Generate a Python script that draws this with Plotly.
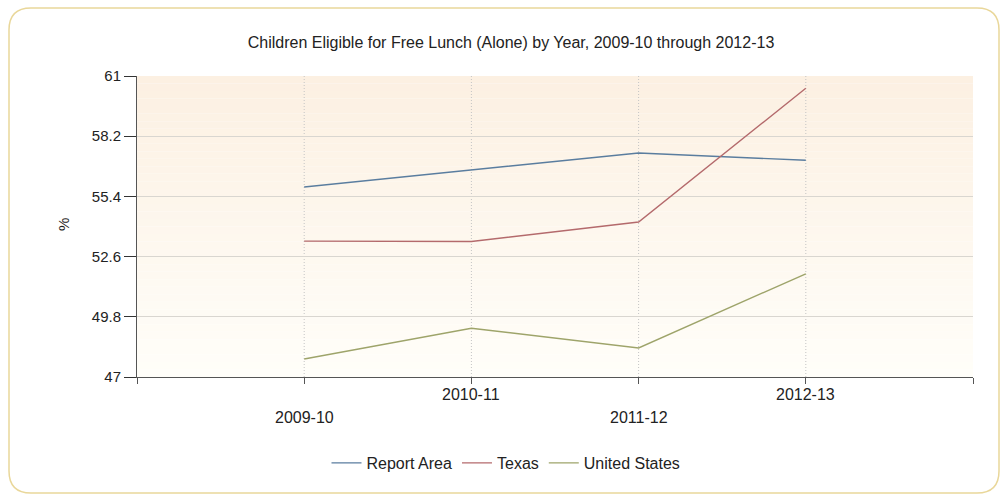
import plotly.graph_objects as go

years = ["2009-10", "2010-11", "2011-12", "2012-13"]
report_area = [55.84, 56.62, 57.42, 57.08]
texas = [53.32, 53.30, 54.21, 60.43]
united_states = [47.84, 49.27, 48.35, 51.80]
y_ticks = [47, 49.8, 52.6, 55.4, 58.2, 61]

W, H = 1008, 501
ML, MR, MT, MB = 137, 35, 76, 124
PW, PH = W - ML - MR, H - MT - MB
FONT = "Liberation Sans, Arial, sans-serif"
FS = 16

def px(x):
    return (x - ML) / PW

def py(y):
    return 1 - (y - MT) / PH

x_idx = list(range(len(years)))

fig = go.Figure()
series = [("Report Area", report_area, "#5a7d9f"),
          ("Texas", texas, "#b46a6c"),
          ("United States", united_states, "#9ea46a")]
for name, vals, col in series:
    fig.add_trace(go.Scatter(x=x_idx, y=vals, mode="lines", name=name,
                             line=dict(color=col, width=1.4)))

shapes = []
n = 40
top = (252, 240, 226)
bot = (255, 254, 249)
for i in range(n):
    t = i / (n - 1)
    c = tuple(round(top[k] + (bot[k] - top[k]) * t) for k in range(3))
    shapes.append(dict(type="rect", xref="x domain", yref="y domain",
                       x0=0, x1=1, y0=1 - (i + 1) / n, y1=1 - i / n,
                       fillcolor="rgb(%d,%d,%d)" % c, line=dict(width=0),
                       layer="below"))
for xi in x_idx:
    shapes.append(dict(type="line", xref="x", yref="y domain", x0=xi, x1=xi,
                       y0=0, y1=1, line=dict(color="#c4c4c4", width=1, dash="1px,2px"),
                       layer="below"))

x0, x1, y0, y1, r = 9, 999, 8, 493, 22
path = (f"M {px(x0+r)},{py(y0)} L {px(x1-r)},{py(y0)} "
        f"Q {px(x1)},{py(y0)} {px(x1)},{py(y0+r)} L {px(x1)},{py(y1-r)} "
        f"Q {px(x1)},{py(y1)} {px(x1-r)},{py(y1)} L {px(x0+r)},{py(y1)} "
        f"Q {px(x0)},{py(y1)} {px(x0)},{py(y1-r)} L {px(x0)},{py(y0+r)} "
        f"Q {px(x0)},{py(y0)} {px(x0+r)},{py(y0)} Z")
shapes.append(dict(type="path", xref="paper", yref="paper", path=path,
                   line=dict(color="#e9d79a", width=1.5), fillcolor="rgba(0,0,0,0)"))

annotations = [dict(text="%", textangle=-90, xref="paper", yref="paper",
                    x=px(63), y=py(225), xanchor="center", yanchor="middle",
                    showarrow=False, font=dict(size=15, color="#222"))]
for i, yr in enumerate(years):
    annotations.append(dict(text=yr, xref="x", yref="paper", x=i,
                            y=py(417 if i % 2 == 0 else 394),
                            xanchor="center", yanchor="middle", showarrow=False,
                            font=dict(size=FS, color="#222")))

fig.update_layout(
    width=W, height=H,
    margin=dict(l=ML, r=MR, t=MT, b=MB),
    paper_bgcolor="white",
    plot_bgcolor="rgba(0,0,0,0)",
    font=dict(family=FONT, size=FS, color="#222"),
    title=dict(text="Children Eligible for Free Lunch (Alone) by Year, 2009-10 through 2012-13",
               x=px(511), xref="paper", y=1 - 42 / H, yref="container",
               xanchor="center", yanchor="middle",
               font=dict(size=FS, color="#222")),
    shapes=shapes,
    annotations=annotations,
    showlegend=True,
    legend=dict(orientation="h", x=px(506), xanchor="center",
                y=py(463), yanchor="middle", font=dict(size=FS, color="#222"),
                bgcolor="rgba(0,0,0,0)", itemwidth=30),
    xaxis=dict(range=[-1, 4], tickmode="array",
               tickvals=list(range(-1, 5)), ticktext=[""] * 6,
               showgrid=False, zeroline=False, showline=True,
               linecolor="#555", linewidth=1, ticks="outside",
               ticklen=6, tickcolor="#555"),
    yaxis=dict(range=[47, 61], tickmode="array", tickvals=y_ticks,
               ticktext=[f"{v:g}" for v in y_ticks],
               showgrid=True, gridcolor="#d9d6d0", gridwidth=1,
               zeroline=False, showline=True, linecolor="#555", linewidth=1,
               ticks="outside", ticklen=12, tickcolor="#333",
               tickfont=dict(size=15, color="#222")),
)

fig.write_html("out.html")
